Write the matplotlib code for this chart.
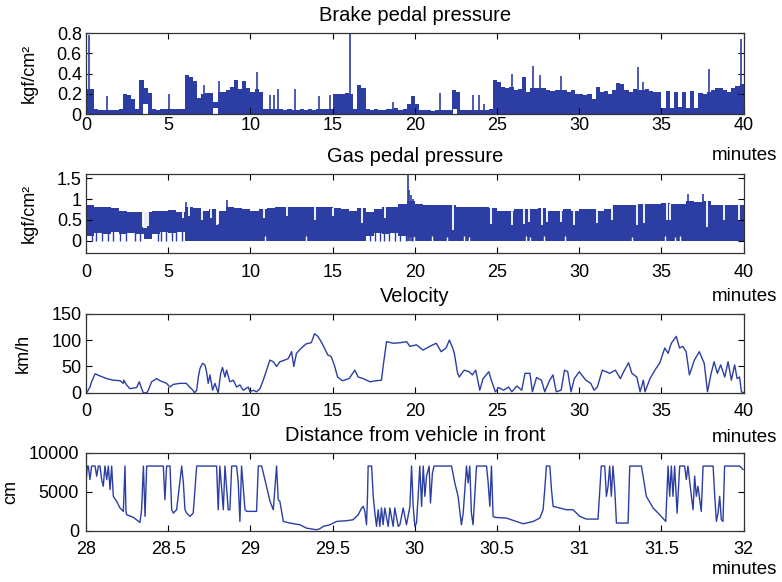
import numpy as np
import matplotlib
matplotlib.use("Agg")
import matplotlib.pyplot as plt

plt.rcParams['font.family'] = ['Liberation Sans', 'DejaVu Sans']
plt.rcParams['font.size'] = 13

BLUE = '#2c3ea3'

# brake pedal pressure (kgf/cm2): level of each 0.25 minute bin
brake_bin = 0.25
brake_top = [
    0.25, 0.25, 0.05, 0.04, 0.04, 0.04, 0.04, 0.04, 0.05, 0.20,
    0.19, 0.15, 0.05, 0.34, 0.26, 0.21, 0.05, 0.04, 0.05, 0.05,
    0.05, 0.05, 0.05, 0.05, 0.39, 0.37, 0.33, 0.16, 0.20, 0.21,
    0.21, 0.12, 0.22, 0.22, 0.24, 0.27, 0.34, 0.25, 0.33, 0.26,
    0.22, 0.25, 0.22, 0.05, 0.05, 0.05, 0.05, 0.05, 0.04, 0.05,
    0.04, 0.04, 0.05, 0.04, 0.05, 0.04, 0.05, 0.05, 0.05, 0.05,
    0.20, 0.20, 0.20, 0.21, 0.20, 0.05, 0.29, 0.26, 0.05, 0.04,
    0.05, 0.04, 0.04, 0.05, 0.05, 0.06, 0.04, 0.05, 0.10, 0.18,
    0.10, 0.04, 0.04, 0.04, 0.03, 0.04, 0.04, 0.04, 0.04, 0.24,
    0.22, 0.04, 0.04, 0.04, 0.04, 0.04, 0.04, 0.04, 0.05, 0.34,
    0.32, 0.27, 0.26, 0.27, 0.24, 0.25, 0.37, 0.22, 0.26, 0.26,
    0.26, 0.26, 0.24, 0.23, 0.24, 0.24, 0.24, 0.22, 0.24, 0.20,
    0.20, 0.19, 0.20, 0.15, 0.27, 0.22, 0.23, 0.20, 0.24, 0.31,
    0.30, 0.24, 0.22, 0.25, 0.24, 0.24, 0.25, 0.23, 0.22, 0.22,
    0.06, 0.23, 0.06, 0.22, 0.07, 0.22, 0.06, 0.23, 0.06, 0.21,
    0.20, 0.22, 0.24, 0.26, 0.26, 0.24, 0.22, 0.26, 0.28, 0.30,
]
# single brake presses
brake_spike_t = [0.2, 1.3, 5.05, 7.15, 8.1, 10.4, 11.2, 11.45, 11.65, 12.7, 14.2, 14.85, 16.07,
                 18.7, 21.5, 23.55, 23.9, 24.2, 25.9, 27.2, 27.6, 28.9, 33.55, 33.9, 37.9, 39.85]
brake_spike_v = [0.78, 0.18, 0.2, 0.29, 0.33, 0.42, 0.19, 0.19, 0.25, 0.25, 0.18, 0.19, 0.85,
                 0.12, 0.21, 0.19, 0.19, 0.1, 0.4, 0.48, 0.39, 0.38, 0.47, 0.32, 0.45, 0.74]
# stretches where the pedal never went back to zero
brake_gap_t0 = [3.45, 7.7, 22.35]
brake_gap_t1 = [3.8, 8.0, 22.55]
brake_gap_v = [0.1, 0.06, 0.05]

# gas pedal pressure (kgf/cm2): upper and lower level of each 0.5 minute bin
gas_bin = 0.5
gas_top = [
    0.85, 0.82, 0.80, 0.78, 0.72, 0.70, 0.68, 0.70, 0.72, 0.72,
    0.74, 0.70, 0.80, 0.78, 0.72, 0.75, 0.72, 0.80, 0.78, 0.75,
    0.72, 0.75, 0.78, 0.80, 0.80, 0.82, 0.80, 0.82, 0.80, 0.80,
    0.78, 0.75, 0.72, 0.78, 0.70, 0.75, 0.80, 0.82, 0.88, 0.95,
    0.88, 0.85, 0.85, 0.85, 0.85, 0.82, 0.82, 0.82, 0.82, 0.78,
    0.72, 0.72, 0.75, 0.75, 0.75, 0.78, 0.72, 0.72, 0.75, 0.72,
    0.75, 0.75, 0.72, 0.75, 0.85, 0.85, 0.85, 0.88, 0.88, 0.88,
    0.90, 0.88, 0.88, 0.95, 0.92, 0.95, 0.85, 0.85, 0.85, 0.85,
]
gas_low = [
    0.12, 0.18, 0.15, 0.20, 0.15, 0.18, 0.15, 0.05, 0.15, 0.20,
    0.18, 0.20, 0.0, 0.0, 0.0, 0.0, 0.0, 0.0, 0.0, 0.0,
    0.0, 0.0, 0.0, 0.0, 0.0, 0.0, 0.0, 0.0, 0.0, 0.0,
    0.0, 0.0, 0.0, 0.0, 0.12, 0.18, 0.15, 0.18, 0.12, 0.10,
    0.0, 0.0, 0.0, 0.0, 0.0, 0.0, 0.0, 0.0, 0.0, 0.0,
    0.0, 0.0, 0.0, 0.0, 0.0, 0.0, 0.0, 0.0, 0.0, 0.0,
    0.0, 0.0, 0.0, 0.0, 0.0, 0.0, 0.0, 0.0, 0.0, 0.0,
    0.0, 0.0, 0.0, 0.0, 0.0, 0.0, 0.0, 0.0, 0.0, 0.0,
]
gas_spike_t = [6.1, 8.55, 19.57, 19.65, 19.75, 19.9, 36.6, 37.5]
gas_spike_v = [0.92, 0.98, 1.65, 1.22, 1.1, 1.0, 1.13, 1.13]
gas_dip_t = [3.45, 3.55, 3.65, 3.75, 5.9, 6.26, 7.07, 7.6, 7.95, 8.05, 10.8, 12.25, 13.9, 15.0,
             16.8, 18.2, 22.33, 24.64, 25.92, 26.63, 26.93, 27.74, 28.05, 28.86, 29.67, 31.08,
             32.0, 33.52, 33.92, 35.34, 35.54, 37.77, 38.78, 39.7]
gas_dip_v = [0.32, 0.3, 0.3, 0.35, 0.55, 0.6, 0.5, 0.55, 0.38, 0.4, 0.55, 0.6, 0.5, 0.6,
             0.42, 0.55, 0.26, 0.4, 0.38, 0.4, 0.45, 0.38, 0.45, 0.45, 0.38, 0.42,
             0.5, 0.38, 0.42, 0.5, 0.5, 0.34, 0.5, 0.5]
gas_down_t = [0.35, 0.6, 0.95, 1.35, 1.65, 2.05, 2.45, 2.95, 3.3, 4.35, 4.55, 4.85, 5.2, 5.45,
              5.85, 17.3, 17.55, 17.85, 18.15, 18.45, 18.8, 19.1, 19.45, 19.85]
gas_notch_t = [10.9, 13.4, 19.95, 21.05, 21.97, 22.98, 23.28, 26.73, 27.03, 27.84, 29.16,
               33.21, 35.24, 35.85, 36.15]
gas_notch_v = [0.12, 0.12, 0.1, 0.12, 0.1, 0.12, 0.1, 0.12, 0.1, 0.12, 0.12, 0.1, 0.12, 0.1, 0.12]

# velocity (km/h)
vel_t = [0.0, 0.08, 0.24, 0.34, 0.55, 0.85, 1.26, 1.66, 2.07, 2.27, 2.3, 2.47, 2.67, 3.08,
         3.24, 3.38, 3.49, 3.69, 3.79, 3.99, 4.3, 4.5, 4.9, 5.1, 5.3, 5.7, 6.1, 6.3, 6.5, 6.6,
         6.73, 6.83, 6.93, 7.09, 7.23, 7.33, 7.43, 7.54, 7.7, 7.84, 8.04, 8.19, 8.3, 8.45,
         8.55, 8.75, 8.96, 9.16, 9.36, 9.56, 9.87, 9.97, 10.17, 10.37, 10.58, 10.78, 10.98,
         11.18, 11.39, 11.59, 11.79, 12.0, 12.3, 12.5, 12.64, 12.8, 13.1, 13.4, 13.7, 13.9,
         14.1, 14.3, 14.5, 14.7, 14.9, 15.1, 15.3, 15.6, 16.0, 16.35, 16.55, 16.86, 17.26,
         17.67, 17.97, 18.07, 18.28, 18.7, 19.1, 19.5, 19.7, 20.1, 20.5, 20.9, 21.3, 21.6,
         21.9, 22.1, 22.3, 22.4, 22.6, 22.7, 23.0, 23.3, 23.5, 23.7, 23.95, 24.15, 24.5,
         24.65, 24.9, 25.1, 25.4, 25.7, 25.9, 26.2, 26.5, 26.7, 27.0, 27.15, 27.4, 27.7,
         27.9, 28.2, 28.4, 28.6, 28.9, 29.1, 29.3, 29.5, 29.7, 30.0, 30.4, 30.7, 30.9, 31.1,
         31.4, 31.85, 32.2, 32.5, 32.7, 33.0, 33.2, 33.5, 33.7, 33.9, 34.0, 34.3, 34.6, 34.9,
         35.2, 35.4, 35.6, 35.9, 36.1, 36.3, 36.5, 36.7, 37.0, 37.3, 37.6, 37.8, 38.0, 38.2,
         38.4, 38.6, 38.85, 39.05, 39.25, 39.45, 39.6, 39.75, 39.86, 40.0]
vel_v = [0, 2, 11, 21, 36, 32, 27, 24, 23, 18, 24, 15, 8, 10,
         21, 8, 0, 0, 5, 21, 27, 23, 18, 11, 16, 18, 18, 11, 5, 0,
         5, 30, 46, 56, 53, 40, 18, 34, 5, 18, 0, 37, 48, 30,
         43, 21, 24, 11, 15, 5, 11, 2, 5, 2, 8, 24, 43,
         62, 59, 50, 59, 61, 65, 78, 50, 75, 85, 93, 95, 112,
         107, 97, 85, 72, 69, 53, 30, 23, 27, 43, 30, 27, 21,
         23, 24, 50, 97, 94, 95, 97, 88, 91, 81, 88, 94, 78,
         85, 100, 85, 75, 37, 30, 43, 40, 34, 43, 5, 27, 40,
         24, 2, 10, 5, 11, 2, 13, 5, 37, 37, 2, 29, 24,
         2, 24, 34, 2, 5, 43, 40, 2, 27, 40, 24, 18, 5, 11,
         43, 37, 43, 27, 40, 57, 37, 30, 2, 24, 2, 27, 43, 57,
         85, 75, 94, 107, 85, 88, 78, 34, 62, 78, 56, 2, 34, 59,
         37, 53, 30, 59, 24, 53, 27, 30, 2, 0]

# distance from vehicle in front (cm), minutes 28 to 32
dist_t = [28.000, 28.008, 28.014, 28.024, 28.034, 28.055, 28.065, 28.075, 28.085, 28.095,
          28.105, 28.115, 28.126, 28.136, 28.146, 28.156, 28.166, 28.186, 28.207, 28.227,
          28.237, 28.243, 28.247, 28.288, 28.328, 28.338, 28.349, 28.359, 28.369, 28.470,
          28.480, 28.490, 28.511, 28.521, 28.531, 28.551, 28.582, 28.592, 28.602, 28.612,
          28.632, 28.652, 28.673, 28.794, 28.804, 28.814, 28.835, 28.845, 28.865, 28.875,
          28.886, 28.916, 28.926, 28.936, 28.946, 28.967, 28.977, 29.037, 29.048, 29.068,
          29.088, 29.119, 29.139, 29.159, 29.169, 29.179, 29.200, 29.240, 29.301, 29.341,
          29.402, 29.422, 29.443, 29.483, 29.524, 29.585, 29.625, 29.656, 29.676, 29.686,
          29.696, 29.706, 29.712, 29.716, 29.737, 29.747, 29.757, 29.767, 29.777, 29.787,
          29.797, 29.807, 29.817, 29.838, 29.848, 29.868, 29.878, 29.899, 29.909, 29.929,
          29.949, 29.970, 29.980, 29.990, 30.000, 30.010, 30.020, 30.030, 30.041, 30.051,
          30.061, 30.071, 30.087, 30.095, 30.107, 30.117, 30.223, 30.243, 30.263, 30.283,
          30.294, 30.314, 30.324, 30.334, 30.344, 30.354, 30.375, 30.436, 30.446, 30.456,
          30.466, 30.476, 30.486, 30.557, 30.598, 30.659, 30.720, 30.760, 30.780, 30.790,
          30.800, 30.821, 30.831, 30.841, 30.881, 30.922, 30.962, 31.003, 31.043, 31.114,
          31.134, 31.155, 31.165, 31.175, 31.185, 31.195, 31.205, 31.216, 31.226, 31.297,
          31.307, 31.378, 31.408, 31.449, 31.489, 31.526, 31.540, 31.550, 31.560, 31.570,
          31.580, 31.595, 31.611, 31.641, 31.651, 31.661, 31.682, 31.692, 31.702, 31.712,
          31.722, 31.742, 31.753, 31.814, 31.824, 31.834, 31.844, 31.854, 31.864, 31.874,
          31.884, 31.976, 31.996]
dist_v = [6140, 8300, 8300, 6570, 8300, 8300, 7000, 8300, 8300, 6570,
          5710, 8300, 6570, 8300, 5280, 8300, 4420, 3780, 2920, 2490,
          8300, 2490, 2060, 1720, 1070, 2700, 8300, 1850, 8300, 8300,
          3990, 8300, 8300, 2700, 2270, 2700, 8300, 6140, 2700, 2270,
          1850, 2270, 8300, 8300, 2700, 8300, 2700, 8300, 2700, 2700,
          8300, 8300, 6140, 1200, 8300, 2700, 2490, 2490, 8300, 8300,
          6570, 3780, 2700, 8300, 3990, 3780, 1200, 990, 770, 340,
          130, 260, 560, 770, 1200, 1290, 1420, 2060, 2920, 3130,
          2490, 770, 4420, 8300, 8300, 4420, 2270, 560, 2700, 560,
          2920, 770, 2920, 560, 2920, 560, 2920, 560, 770, 2920,
          770, 3130, 8300, 3130, 560, 990, 4420, 8300, 3130, 8300,
          4420, 7000, 8300, 3560, 7430, 8300, 8300, 6140, 4420, 770,
          2270, 8300, 6140, 8300, 2270, 770, 8300, 8300, 6140, 3130,
          8300, 1850, 1720, 1630, 1330, 900, 1200, 1630, 2700, 5280,
          8300, 8300, 5280, 3130, 2920, 2700, 2700, 1850, 1500, 1500,
          8300, 8300, 4420, 5710, 8300, 4420, 8300, 5280, 990, 990,
          8300, 8300, 4420, 2920, 2060, 1200, 8300, 4420, 8300, 4420,
          8300, 2270, 8300, 8300, 6570, 8300, 4420, 2700, 7000, 4420,
          5710, 2490, 8300, 8300, 4420, 1200, 2270, 4420, 1420, 1200,
          8300, 8300, 7850]


def step_fill(ax, bin_w, top, low=None):
    top = np.asarray(top, dtype=float)
    low = np.zeros_like(top) if low is None else np.asarray(low, dtype=float)
    edges = np.arange(len(top) + 1) * bin_w
    ax.fill_between(edges, np.append(low, low[-1]), np.append(top, top[-1]),
                    step='post', color=BLUE, lw=0)


def style(ax, title, ylabel, y_off, xpad, ypad, lpad):
    ax.set_title(title, pad=8.5, fontsize=14.5)
    ax.set_ylabel(ylabel, labelpad=lpad)
    ax.tick_params(direction='in', top=True, right=True, length=4, width=0.8,
                   labelsize=13)
    ax.tick_params(axis='x', pad=xpad)
    ax.tick_params(axis='y', pad=ypad)
    for s in ax.spines.values():
        s.set_linewidth(0.9)
        s.set_color('#333333')
    ax.annotate('minutes', xy=(1, 0), xycoords='axes fraction', xytext=(24, y_off),
                textcoords='offset points', ha='right', va='center', fontsize=13.5)


fig = plt.figure(figsize=(7.82, 5.82), dpi=100)
left, width = 0.110, 0.841
ax1 = fig.add_axes([left, 0.804, width, 0.139])
ax2 = fig.add_axes([left, 0.565, width, 0.136])
ax3 = fig.add_axes([left, 0.325, width, 0.136])
ax4 = fig.add_axes([left, 0.088, width, 0.134])

# Brake pedal
step_fill(ax1, brake_bin, brake_top)
ax1.vlines(brake_spike_t, 0, brake_spike_v, color=BLUE, lw=1.2)
for t0, t1, v in zip(brake_gap_t0, brake_gap_t1, brake_gap_v):
    ax1.fill_between([t0, t1], 0, v, color='white', lw=0)
ax1.set_xlim(0, 40)
ax1.set_ylim(0, 0.8)
ax1.set_xticks(np.arange(0, 41, 5))
ax1.set_yticks([0, 0.2, 0.4, 0.6, 0.8])
ax1.set_yticklabels(['0', '0.2', '0.4', '0.6', '0.8'])
style(ax1, 'Brake pedal pressure', 'kgf/cm²', -30, 2, 3, 14)

# Gas pedal
step_fill(ax2, gas_bin, gas_top, gas_low)
ax2.vlines(gas_spike_t, 0, gas_spike_v, color=BLUE, lw=1.2)
ax2.vlines(gas_down_t, 0, 0.3, color=BLUE, lw=1.0)
gas_top_at = np.asarray(gas_top)[(np.asarray(gas_dip_t) / gas_bin).astype(int)]
ax2.vlines(gas_dip_t, gas_dip_v, gas_top_at + 0.01, color='white', lw=1.3)
ax2.vlines(gas_notch_t, -0.01, gas_notch_v, color='white', lw=1.0)
ax2.set_xlim(0, 40)
ax2.set_ylim(-0.3, 1.6)
ax2.set_xticks(np.arange(0, 41, 5))
ax2.set_yticks([0, 0.5, 1, 1.5])
ax2.set_yticklabels(['0', '0.5', '1', '1.5'])
style(ax2, 'Gas pedal pressure', 'kgf/cm²', -31, 7.5, 3, 14)

# Velocity
ax3.plot(vel_t, vel_v, color=BLUE, lw=1.0)
ax3.set_xlim(0, 40)
ax3.set_ylim(0, 150)
ax3.set_xticks(np.arange(0, 41, 5))
ax3.set_yticks([0, 50, 100, 150])
style(ax3, 'Velocity', 'km/h', -32, 7, 3, 14)

# Distance
ax4.plot(dist_t, dist_v, color=BLUE, lw=1.0)
ax4.set_xlim(28, 32)
ax4.set_ylim(0, 10000)
ax4.set_xticks([28, 28.5, 29, 29.5, 30, 30.5, 31, 31.5, 32])
ax4.set_xticklabels(['28', '28.5', '29', '29.5', '30', '30.5', '31', '31.5', '32'])
ax4.set_yticks([0, 5000, 10000])
style(ax4, 'Distance from vehicle in front', 'cm', -28, 7, 5, 7)

fig.savefig('out.png', dpi=100)
